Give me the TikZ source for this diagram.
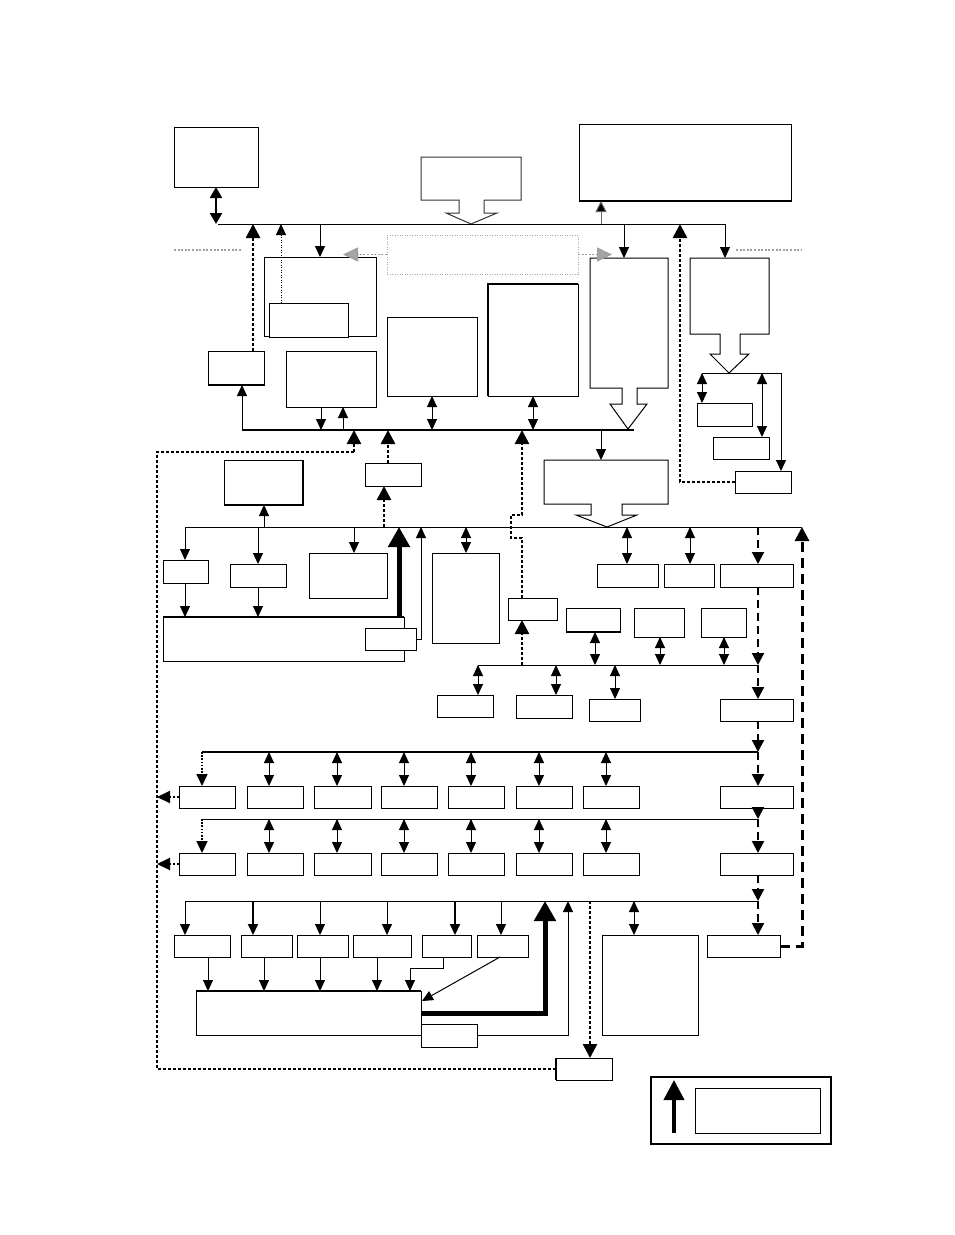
\documentclass[tikz,border=0pt]{standalone}
\usetikzlibrary{arrows.meta}
\newcommand\bx[6][]{\node[box,anchor=north west,minimum width={#5-#3},minimum height={#6-#4},#1] (#2) at (#3,#4) {};}
\begin{document}
\begin{tikzpicture}[x=1pt,y=-1pt,
 box/.style={draw,fill=white,line width=1pt,inner sep=0pt,outer sep=0pt},
 ghost/.style={inner sep=0pt,outer sep=0pt},
 ln/.style={line width=1pt},
 edge2/.style={line width=2pt},
 arr/.style={line width=1pt,-{Triangle[width=10pt,length=11pt]}},
 darr/.style={line width=1pt,{Triangle[width=10pt,length=11pt]}-{Triangle[width=10pt,length=11pt]}},
 dotB/.style={line width=2.6pt,dash pattern=on 2.6pt off 2.4pt},
 bigdot/.style={dotB,-{Triangle[width=14pt,length=14pt]}},
 thindot/.style={line width=1pt,dash pattern=on 1pt off 1.5pt,-{Triangle[width=10pt,length=11pt]}},
 dsh/.style={line width=2pt,dash pattern=on 8pt off 5pt,-{Triangle[width=12pt,length=12pt]}},
 bigdsh/.style={line width=3pt,dash pattern=on 10pt off 6pt,-{Triangle[width=14pt,length=14pt]}},
 hugearr/.style={line width=5pt,-{Triangle[width=21pt,length=20pt]}},
 gdot/.style={draw=gray!75,line width=1.6pt,dash pattern=on 2pt off 1.6pt},
]
\useasboundingbox (0,0) rectangle (954,1235);

% ---------- boxes ----------
\bx{A}{174}{127}{258}{187}
\node[ghost,anchor=north west,minimum width=100,minimum height=43] (B) at (421,157) {};
\bx{C}{579}{124}{791}{201}
\draw[edge2] (C.south west) -- (C.south east);
\bx[draw=gray!70,dash pattern=on 1pt off 1.5pt,fill=none]{GR}{387}{235}{578}{274}
\bx{D}{264}{257}{376}{336}
\bx{D1}{269}{303}{348}{337}
\bx{E}{208}{351}{264}{385}
\draw[edge2] (E.south west) -- (E.south east);
\bx{H}{286}{351}{376}{407}
\bx{I}{387}{317}{477}{396}
\bx{J}{488}{284}{578}{396}
\draw[edge2] (J.south west) -- (J.north west) -- (J.north east);
\node[ghost,anchor=north west,minimum width=78,minimum height=130] (F) at (590,258) {};
\node[ghost,anchor=north west,minimum width=79,minimum height=76] (G) at (690,258) {};
\bx{N}{697}{403}{752}{426}
\bx{O}{713}{437}{769}{459}
\bx{P}{735}{471}{791}{493}
\bx{Q}{224}{460}{303}{505}
\draw[edge2] (Q.north east) -- (Q.south east) -- (Q.south west);
\bx{L}{365}{463}{421}{486}
\node[ghost,anchor=north west,minimum width=124,minimum height=44] (K) at (544,460) {};
\bx{R1}{163}{560}{208}{583}
\bx{R2}{230}{564}{286}{587}
\bx{R3}{309}{553}{387}{598}
\bx{T}{163}{617}{404}{661}
\draw[edge2] (T.north west) -- (T.north east);
\bx{U}{365}{628}{416}{650}
\bx{V}{432}{553}{499}{643}
\bx{W1}{597}{564}{658}{587}
\bx{W2}{664}{564}{714}{587}
\bx{W3}{720}{564}{793}{587}
\bx{M}{508}{598}{557}{620}
\bx{Z1}{566}{608}{620}{632}
\draw[edge2] (Z1.south west) -- (Z1.south east);
\bx{Z2}{634}{608}{684}{637}
\bx{Z3}{701}{608}{746}{637}
\bx{Y1}{437}{695}{493}{717}
\bx{Y2}{516}{695}{572}{718}
\bx{Y3}{589}{699}{640}{721}
\bx{X1}{720}{699}{793}{721}
\foreach \a/\b [count=\i] in {179/235,247/303,314/371,381/437,448/504,516/572,583/639,720/793}{
  \bx{ra\i}{\a}{786}{\b}{808}
  \bx{rb\i}{\a}{853}{\b}{875}
}
\foreach \a/\b [count=\i] in {174/230,241/292,297/348,353/411,422/471,477/528}{
  \bx{rc\i}{\a}{935}{\b}{957}
}
\bx{T2}{196}{991}{421}{1035}
\draw[edge2] (T2.north west) -- (T2.north east);
\bx{U2}{421}{1024}{477}{1047}
\bx{AA}{602}{935}{698}{1035}
\bx{Z}{707}{935}{780}{957}
\bx{S}{556}{1058}{612}{1080}
\draw[edge2] (S.north west) -- (S.south west);
\bx[line width=1.4pt]{LG}{651}{1077}{831}{1144}
\bx{LGi}{695}{1088}{820}{1133}

% ---------- block arrows ----------
\draw[ln,draw=black!80] (B.south west) -- (B.north west) -- (B.north east) -- (B.south east)
  -- (484,200) -- (484,213) -- (497,213) -- (471,224) -- (446,213) -- (459,213) -- (459,200) -- cycle;
\draw[ln] (F.south west) -- (F.north west) -- (F.north east) -- (F.south east)
  -- (637,388) -- (637,404) -- (647,404) -- (628,429) -- (610,404) -- (622,404) -- (622,388) -- cycle;
\draw[ln] (G.south west) -- (G.north west) -- (G.north east) -- (G.south east)
  -- (740,334) -- (740,354) -- (749,354) -- (729,373) -- (710,354) -- (720,354) -- (720,334) -- cycle;
\draw[ln] (K.south west) -- (K.north west) -- (K.north east) -- (K.south east)
  -- (622,504) -- (622,515) -- (637,515) -- (607,527) -- (576,515) -- (591,515) -- (591,504) -- cycle;

% ---------- buses ----------
\coordinate (b1w) at (218,224); \coordinate (b1e) at (725,224);
\coordinate (b2w) at (242,430); \coordinate (b2e) at (634,430);
\coordinate (b3w) at (185,527); \coordinate (b3e) at (802,527);
\coordinate (b4w) at (478,665); \coordinate (b4e) at (758,665);
\coordinate (b5w) at (202,752); \coordinate (b5e) at (758,752);
\coordinate (b6w) at (202,819); \coordinate (b6e) at (758,819);
\coordinate (b7w) at (185,901); \coordinate (b7e) at (758,901);
\coordinate (gw) at (702,373); \coordinate (ge) at (781,373);
\draw[ln] (b1w) -- (b1e);
\draw[line width=2pt] (b2w) -- (b2e);
\draw[ln] (b3w) -- (b3e);
\draw[ln] (b4w) -- (b4e);
\draw[line width=1.5pt] (b5w) -- (b5e);
\draw[ln] (b6w) -- (b6e);
\draw[ln] (b7w) -- (b7e);
\draw[ln] (gw) -- (ge);

% ---------- top connectors ----------
\draw[line width=2.2pt,{Triangle[width=12pt,length=11pt]}-{Triangle[width=12pt,length=11pt]}] (A.south) -- (A.south |- b1w);
\draw[arr] (D.north |- b1w) -- (D.north);
\draw[arr,draw=black!60,-{Triangle[width=11pt,length=11pt,fill=black]}] (601,0 |- b1w) -- (601,0 |- C.south);
\draw[arr] (624,0 |- b1w) -- (624,0 |- F.north);
\draw[arr] (725,0 |- b1w) -- (725,0 |- G.north);
\draw[bigdot] (253,0 |- E.north) -- (253,0 |- b1w);
\draw[thindot] (281,0 |- D1.north) -- (281,0 |- b1w);
\draw[bigdot] (P.west) -- (680,0 |- P.west) -- (680,0 |- b1w);
\draw[gdot] (174,250) -- (242,250);
\draw[gdot] (736,250) -- (802,250);
\draw[gdot,-{Triangle[width=14pt,length=15pt,fill=gray!70]}] (GR.west) -- (343,0 |- GR.west);
\draw[gdot,-{Triangle[width=14pt,length=15pt,fill=gray!70]}] (GR.east) -- (612,0 |- GR.east);

% ---------- middle bus connectors ----------
\draw[arr] (b2w) -- (242,0 |- E.south);
\draw[arr] (321,0 |- H.south) -- (321,0 |- b2w);
\draw[arr] (343,0 |- b2w) -- (343,0 |- H.south);
\draw[darr] (432,0 |- I.south) -- (432,0 |- b2w);
\draw[darr] (533,0 |- J.south) -- (533,0 |- b2w);
\draw[arr] (601,0 |- b2w) -- (601,0 |- K.north);
\draw[dotB] (S.west) -- (157,0 |- S.west) -- (157,452) -- (354,452);
\draw[bigdot] (354,452) -- (354,0 |- b2w);
\draw[bigdot] (388,0 |- L.north) -- (388,0 |- b2w);
\draw[bigdot] (384,0 |- b3w) -- (384,0 |- L.south);
\draw[bigdot] (M.north -| 522,0) -- (522,538) -- (511,538) -- (511,515) -- (522,515) -- (522,0 |- b2w);
\draw[bigdot] (522,0 |- b4w) -- (522,0 |- M.south);
\draw[darr] (gw) -- (N.north -| gw);
\draw[darr] (762,0 |- gw) -- (762,0 |- O.north);
\draw[arr] (ge) -- (ge |- P.north);
\draw[arr] (264,0 |- b3w) -- (264,0 |- Q.south);

% ---------- bus 3 ----------
\draw[arr] (b3w) -- (R1.north -| b3w);
\draw[arr] (258,0 |- b3w) -- (258,0 |- R2.north);
\draw[arr] (354,0 |- b3w) -- (354,0 |- R3.north);
\draw[hugearr] (399,0 |- T.north) -- (399,0 |- b3w);
\draw[arr] (U.east) -- (421,0 |- U.east) -- (421,0 |- b3w);
\draw[darr] (466,0 |- b3w) -- (466,0 |- V.north);
\draw[darr] (627,0 |- b3w) -- (627,0 |- W1.north);
\draw[darr] (690,0 |- b3w) -- (690,0 |- W2.north);
\draw[dsh] (758,0 |- b3w) -- (758,0 |- W3.north);
\draw[bigdsh] (Z.east) -- (b3e |- Z.east) -- (b3e);
\draw[arr] (R1.south -| b3w) -- (185,0 |- T.north);
\draw[arr] (258,0 |- R2.south) -- (258,0 |- T.north);

% ---------- bus 4 ----------
\draw[dsh] (758,0 |- W3.south) -- (b4e);
\draw[dsh] (b4e) -- (758,0 |- X1.north);
\draw[darr] (b4w) -- (b4w |- Y1.north);
\draw[darr] (556,0 |- b4w) -- (556,0 |- Y2.north);
\draw[darr] (615,0 |- b4w) -- (615,0 |- Y3.north);
\draw[darr] (595,0 |- Z1.south) -- (595,0 |- b4w);
\draw[darr] (660,0 |- Z2.south) -- (660,0 |- b4w);
\draw[darr] (724,0 |- Z3.south) -- (724,0 |- b4w);

% ---------- rows ----------
\draw[dsh] (758,0 |- X1.south) -- (b5e);
\draw[dsh] (b5e) -- (758,0 |- ra8.north);
\draw[dsh] (758,0 |- ra8.south) -- (b6e);
\draw[dsh] (b6e) -- (758,0 |- rb8.north);
\draw[dsh] (758,0 |- rb8.south) -- (b7e);
\draw[dsh] (b7e) -- (758,0 |- Z.north);
\draw[line width=1.6pt,dash pattern=on 1.6pt off 1.6pt,-{Triangle[width=11pt,length=12pt]}] (b5w) -- (b5w |- ra1.north);
\draw[line width=1.6pt,dash pattern=on 1.6pt off 1.6pt,-{Triangle[width=11pt,length=12pt]}] (b6w) -- (b6w |- rb1.north);
\foreach \x/\i in {269/2,337/3,404/4,471/5,539/6,606/7}{
  \draw[darr] (\x,0 |- b5w) -- (\x,0 |- ra\i.north);
  \draw[darr] (\x,0 |- b6w) -- (\x,0 |- rb\i.north);
}
\draw[line width=2pt,dash pattern=on 2pt off 2pt,-{Triangle[width=12pt,length=13pt]}] (ra1.west) -- (157,0 |- ra1.west);
\draw[line width=2pt,dash pattern=on 2pt off 2pt,-{Triangle[width=12pt,length=13pt]}] (rb1.west) -- (157,0 |- rb1.west);

% ---------- bus 7 ----------
\draw[arr] (b7w) -- (b7w |- rc1.north);
\draw[arr,line width=2pt] (253,0 |- b7w) -- (253,0 |- rc2.north);
\draw[arr] (320,0 |- b7w) -- (320,0 |- rc3.north);
\draw[arr] (387,0 |- b7w) -- (387,0 |- rc4.north);
\draw[arr,line width=2pt] (455,0 |- b7w) -- (455,0 |- rc5.north);
\draw[arr] (501,0 |- b7w) -- (501,0 |- rc6.north);
\draw[arr] (208,0 |- rc1.south) -- (208,0 |- T2.north);
\draw[arr] (264,0 |- rc2.south) -- (264,0 |- T2.north);
\draw[arr] (320,0 |- rc3.south) -- (320,0 |- T2.north);
\draw[arr] (377,0 |- rc4.south) -- (377,0 |- T2.north);
\draw[arr] (443,0 |- rc5.south) -- (443,968) -- (410,968) -- (410,0 |- T2.north);
\draw[arr] (500,0 |- rc6.south) -- (422,1001);
\draw[hugearr] (T2.east |- 0,1013) -- (545,1013) -- (545,0 |- b7w);
\draw[arr] (U2.east |- 0,1035) -- (568,1035) -- (568,0 |- b7w);
\draw[bigdot] (590,0 |- b7w) -- (590,0 |- S.north);
\draw[darr] (634,0 |- b7w) -- (634,0 |- AA.north);

% ---------- legend ----------
\draw[line width=4pt,-{Triangle[width=20pt,length=20pt]}] (674,0 |- LGi.south) -- (674,1080);
\end{tikzpicture}
\end{document}
